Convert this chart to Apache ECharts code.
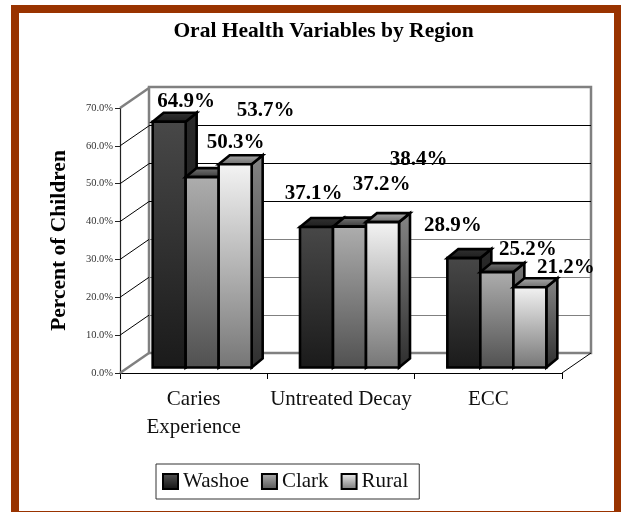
<!DOCTYPE html>
<html><head><meta charset="utf-8">
<style>html,body{margin:0;padding:0;background:#fff}#c{width:621px;height:512px}</style>
<script src="https://cdn.jsdelivr.net/npm/echarts@6/dist/echarts.min.js"></script>
</head><body><div id="c"></div>
<script>
const categories = ['Caries\nExperience', 'Untreated Decay', 'ECC'];
const washoe = [64.9, 37.1, 28.9];
const clark = [50.3, 37.2, 25.2];
const rural = [53.7, 38.4, 21.2];
const seriesNames = ['Washoe', 'Clark', 'Rural'];
const yTicks = [0, 10, 20, 30, 40, 50, 60, 70];

const FONT = '"Liberation Serif","Times New Roman",serif';
const BAR_W = 33, WALL_DX = 29, WALL_DY = -20, BAR_DX = 11, BAR_DY = -9, MID_DX = 8.5, MID_DY = -5.5;
// hand-placed label shifts relative to each bar's front-top centre, as in the source chart
const labelShift = [
  [[17, -20.5], [-3, -33], [-11, -33]],
  [[33.5, -35], [32, -42.5], [31, -23]],
  [[30.5, -53.5], [36, -63], [36, -20]]
];
const lin = (a, b) => ({type:'linear', x:0, y:0, x2:0, y2:1, colorStops:[{offset:0,color:a},{offset:1,color:b}]});
const faces = [
  {front: lin('#484848','#1a1a1a'), top: lin('#333333','#1c1c1c'), side: lin('#2a2a2a','#161616')},
  {front: lin('#aeaeae','#505050'), top: lin('#7c7c7c','#333333'), side: lin('#777777','#333333')},
  {front: lin('#f4f4f4','#757575'), top: lin('#b0b0b0','#666666'), side: lin('#858585','#2e2e2e')}
];
const legendFill = [lin('#555555','#111111'), lin('#b0b0b0','#555555'), lin('#f0f0f0','#777777')];

function barRender(si) {
  return function (params, api) {
    const cat = api.value(0), val = api.value(1);
    const c = api.coord([cat, val]), base = api.coord([cat, 0]);
    const groupW = BAR_W * 3;
    const x0 = c[0] - groupW / 2 + MID_DX + si * BAR_W;
    const x1 = x0 + BAR_W;
    const yT = c[1] + MID_DY, yB = base[1] + MID_DY;
    const f = faces[si];
    const st = (fill) => ({fill, stroke:'#000', lineWidth:2.6, lineJoin:'miter'});
    const s = labelShift[si][cat];
    return {type:'group', children:[
      {type:'polygon', shape:{points:[[x1,yT],[x1+BAR_DX,yT+BAR_DY],[x1+BAR_DX,yB+BAR_DY],[x1,yB]]}, style:st(f.side)},
      {type:'polygon', shape:{points:[[x0,yT],[x0+BAR_DX,yT+BAR_DY],[x1+BAR_DX,yT+BAR_DY],[x1,yT]]}, style:st(f.top)},
      {type:'rect', shape:{x:x0,y:yT,width:BAR_W,height:yB-yT}, style:st(f.front)},
      {type:'text', z2:100, x:x0+BAR_W/2+s[0], y:yT+s[1],
        style:{text:val.toFixed(1)+'%', fill:'#000', font:'bold 21px '+FONT, textAlign:'center', textVerticalAlign:'middle'}}
    ]};
  };
}
function wallRender(params, api) {
  const v = api.value(0);
  const p = api.coord([0, v]);
  const x = api.coord([0, 0])[0] - api.size([1, 0])[0] / 2;
  const edge = v === 0 || v === 70;
  return {type:'line', shape:{x1:x,y1:p[1],x2:x+WALL_DX,y2:p[1]+WALL_DY},
    style:{stroke: edge ? '#808080' : '#000', lineWidth: edge ? 2.5 : 1}};
}
function floorRender(params, api) {
  const p = api.coord([2, 0]);
  const x = p[0] + api.size([1, 0])[0] / 2;
  return {type:'line', shape:{x1:x,y1:p[1],x2:x+WALL_DX,y2:p[1]+WALL_DY}, style:{stroke:'#000', lineWidth:1}};
}

const chart = echarts.init(document.getElementById('c'), null, {renderer:'canvas'});
const seriesValues = [washoe, clark, rural];
chart.setOption({
  animation:false,
  backgroundColor:'#fff',
  title:{text:'Oral Health Variables by Region', left:318.5, top:15, textAlign:'center',
    textStyle:{fontFamily:FONT, fontWeight:'bold', fontSize:21.5, color:'#000'}},
  grid:[
    {left:149, right:30, top:87, bottom:159, show:true, borderColor:'#808080', borderWidth:2.5, backgroundColor:'#fff'},
    {left:120, right:59, top:108, bottom:139}
  ],
  xAxis:[
    {gridIndex:0, type:'category', data:categories, show:false},
    {gridIndex:1, type:'category', data:categories, boundaryGap:true,
      axisLine:{lineStyle:{color:'#000', width:1.2}},
      axisTick:{show:true, length:6, lineStyle:{color:'#000'}},
      axisLabel:{interval:0, margin:12, fontFamily:FONT, fontSize:21, lineHeight:28, color:'#111'}}
  ],
  yAxis:[
    {gridIndex:0, type:'value', min:0, max:70, interval:10,
      axisLine:{show:false}, axisTick:{show:false}, axisLabel:{show:false},
      splitLine:{show:true, lineStyle:{width:1.2, color:['#808080','#808080','#808080','#808080','#000','#000','#000','#808080']}}},
    {gridIndex:1, type:'value', min:0, max:70, interval:10,
      name:'Percent of Children', nameLocation:'middle', nameGap:50, nameRotate:90,
      nameTextStyle:{fontFamily:FONT, fontWeight:'bold', fontSize:21.5, color:'#000'},
      axisLine:{show:true, lineStyle:{color:'#222', width:1.2}},
      axisTick:{show:true, length:5, lineStyle:{color:'#222'}},
      axisLabel:{margin:7, fontFamily:FONT, fontSize:10.5, color:'#333', formatter:v=>v.toFixed(1)+'%'},
      splitLine:{show:false}}
  ],
  legend:{left:156, top:464, orient:'horizontal', data:seriesNames,
    icon:'rect', itemWidth:15, itemHeight:15, itemGap:12, padding:[7,11,7,6],
    borderColor:'#333', borderWidth:1, backgroundColor:'#fff',
    textStyle:{fontFamily:FONT, fontSize:21, color:'#111'}},
  series:[
    {type:'custom', name:'walls', xAxisIndex:1, yAxisIndex:1, renderItem:wallRender, clip:false, silent:true, z:3,
      encode:{y:0}, data:yTicks.map(v=>[v])},
    {type:'custom', name:'floor', xAxisIndex:1, yAxisIndex:1, renderItem:floorRender, clip:false, silent:true, z:3,
      data:[[0]]},
    ...seriesNames.map((n,si)=>({
      type:'custom', name:n, xAxisIndex:1, yAxisIndex:1, clip:false, z:5+si,
      renderItem:barRender(si), encode:{x:0,y:1},
      itemStyle:{color:legendFill[si], borderColor:'#000', borderWidth:2},
      data:seriesValues[si].map((v,i)=>[i,v])
    }))
  ],
  graphic:[{type:'rect', z:-1, silent:true, shape:{x:15,y:9,width:603,height:506},
    style:{fill:'none', stroke:'#993300', lineWidth:8}}]
});
</script></body></html>
